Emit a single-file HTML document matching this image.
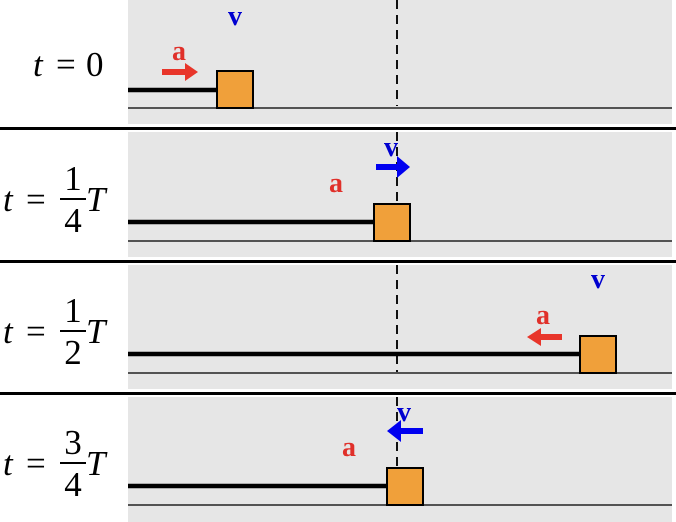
<!DOCTYPE html>
<html><head><meta charset="utf-8"><style>
html,body{margin:0;padding:0;background:#fff;}
svg{display:block;}
.lab{font-family:"Liberation Serif",serif;font-weight:bold;font-size:28px;}
.eq{font-family:"Liberation Serif",serif;font-size:35px;}
.it{font-style:italic;}
</style></head><body>
<svg width="676" height="522" viewBox="0 0 676 522">
<rect x="128" y="0" width="544" height="124" fill="#e6e6e6"/>
<rect x="128" y="132" width="544" height="125" fill="#e6e6e6"/>
<rect x="128" y="265" width="544" height="124" fill="#e6e6e6"/>
<rect x="128" y="397" width="544" height="125" fill="#e6e6e6"/>
<rect x="0" y="127" width="676" height="3" fill="#000"/>
<rect x="0" y="260" width="676" height="3" fill="#000"/>
<rect x="0" y="392" width="676" height="3" fill="#000"/>
<g stroke="#111" stroke-width="2" stroke-dasharray="9,6">
<line x1="397" y1="0" x2="397" y2="106"/>
<line x1="397" y1="132" x2="397" y2="204"/>
<line x1="397" y1="265" x2="397" y2="372"/>
<line x1="397" y1="397" x2="397" y2="468"/>
</g>
<g stroke="#222" stroke-width="1.6">
<line x1="128" y1="108" x2="672" y2="108"/>
<line x1="128" y1="241" x2="672" y2="241"/>
<line x1="128" y1="373" x2="672" y2="373"/>
<line x1="128" y1="505" x2="672" y2="505"/>
</g>
<g stroke="#000" stroke-width="4.5">
<line x1="128" y1="90" x2="218" y2="90"/>
<line x1="128" y1="222" x2="375" y2="222"/>
<line x1="128" y1="354" x2="581" y2="354"/>
<line x1="128" y1="486" x2="387" y2="486"/>
</g>
<g fill="#f0a03a" stroke="#000" stroke-width="2">
<rect x="217" y="71" width="36" height="37"/>
<rect x="374" y="204" width="36" height="37"/>
<rect x="580" y="336" width="36" height="37"/>
<rect x="387" y="468" width="36" height="37"/>
</g>
<polygon points="162,69 185,69 185,63 198,72 185,81 185,75 162,75" fill="#e8352a"/>
<polygon points="376,164 397,164 397,156 410,167 397,178 397,170 376,170" fill="#0000f0"/>
<polygon points="562,334 541,334 541,328 527,337 541,346 541,340 562,340" fill="#e8352a"/>
<polygon points="423,428 401,428 401,420 387,431 401,442 401,434 423,434" fill="#0000f0"/>
<g class="lab" text-anchor="middle">
<text x="235" y="25" fill="#0000d0">v</text>
<text x="179" y="60" fill="#e0302a">a</text>
<text x="391" y="156" fill="#0000d0">v</text>
<text x="336" y="192" fill="#e0302a">a</text>
<text x="598" y="288" fill="#0000d0">v</text>
<text x="543" y="324" fill="#e0302a">a</text>
<text x="404" y="421" fill="#0000d0">v</text>
<text x="349" y="456" fill="#e0302a">a</text>
</g>
<g class="eq">
<text x="33" y="76" class="it">t</text>
<text x="56" y="76">=</text>
<text x="86" y="76">0</text>
<text x="3" y="211" class="it">t</text>
<text x="26" y="211">=</text>
<text x="73" y="190" text-anchor="middle">1</text>
<text x="73" y="232" text-anchor="middle">4</text>
<text x="86" y="211" class="it">T</text>
<text x="3" y="343" class="it">t</text>
<text x="26" y="343">=</text>
<text x="73" y="322" text-anchor="middle">1</text>
<text x="73" y="364" text-anchor="middle">2</text>
<text x="86" y="343" class="it">T</text>
<text x="3" y="475" class="it">t</text>
<text x="26" y="475">=</text>
<text x="73" y="454" text-anchor="middle">3</text>
<text x="73" y="496" text-anchor="middle">4</text>
<text x="86" y="475" class="it">T</text>
</g>
<g stroke="#000" stroke-width="2">
<line x1="60" y1="199" x2="86" y2="199"/>
<line x1="60" y1="331" x2="86" y2="331"/>
<line x1="60" y1="463" x2="86" y2="463"/>
</g>
</svg>
</body></html>
